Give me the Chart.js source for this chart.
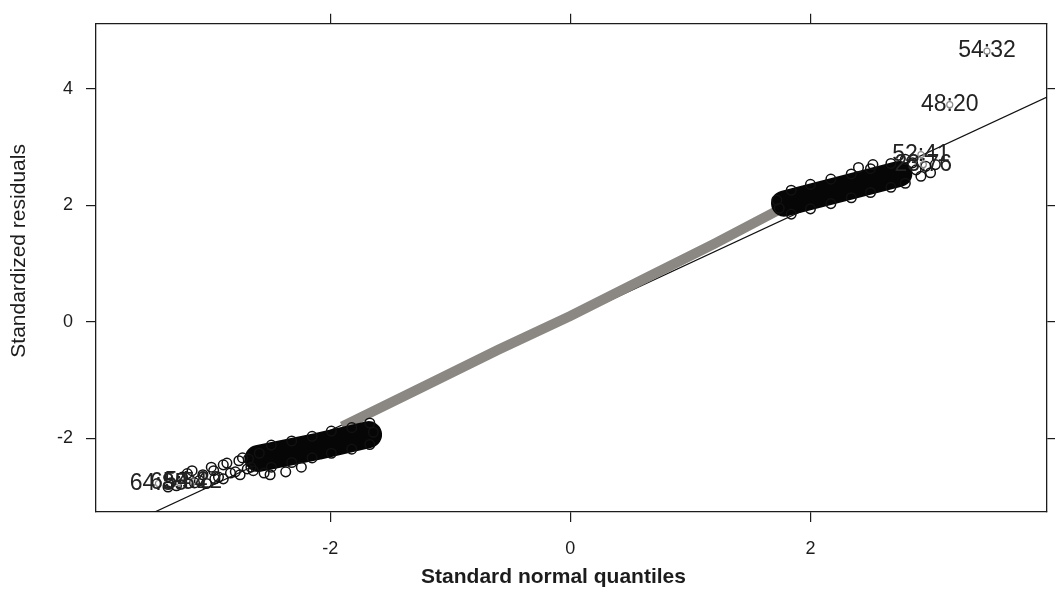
<!DOCTYPE html>
<html>
<head>
<meta charset="utf-8">
<script src="https://cdn.jsdelivr.net/npm/chart.js@4.4.1/dist/chart.umd.min.js"></script>
<style>
  html, body { margin: 0; padding: 0; background: #fff; }
  #wrap { width: 1055px; height: 593px; }
</style>
</head>
<body>
<div id="wrap"><canvas id="qq" width="1055" height="593"></canvas></div>
<script>
// --- DATA ---
const xTicks = [-2, 0, 2];
const yTicks = [-2, 0, 2, 4];

// fitted reference line, given by its two ends
const refLineX = [-3.95, 3.97];
const refLineY = [-3.74, 3.86];

// middle of the sample: so many points they read as a grey band
const bandX = [-1.90, -1.20, -0.60, 0.00, 0.60, 1.20, 1.78];
const bandY = [-1.80, -1.09, -0.48, 0.10, 0.72, 1.34, 1.97];

// dense black cores of both tails
const lowCoreX = [-1.68, -2.10, -2.60];
const lowCoreY = [-1.94, -2.14, -2.35];
const highCoreX = [1.78, 2.25, 2.74];
const highCoreY = [2.03, 2.28, 2.54];

// open circles around the lower tail
const lowTailX = [-2.49, -2.32, -2.15, -1.99, -1.82, -1.67,
                  -2.49, -2.32, -2.15, -1.99, -1.82, -1.67,
                  -3.19, -3.13, -3.06, -2.99, -2.93, -2.86, -2.79, -2.73, -2.66, -2.59,
                  -3.09, -2.96, -2.83, -2.69, -2.89, -2.76,
                  -3.28, -3.35, -2.50, -2.37, -2.24, -1.64,
                  -3.15, -3.03, -2.89, -2.75, -2.64, -2.97, -3.23, -2.55, -2.68];
const lowTailY = [-2.12, -2.05, -1.97, -1.88, -1.82, -1.74,
                  -2.50, -2.42, -2.34, -2.26, -2.19, -2.11,
                  -2.61, -2.77, -2.63, -2.50, -2.67, -2.43, -2.58, -2.34, -2.50, -2.26,
                  -2.73, -2.70, -2.60, -2.53, -2.46, -2.39,
                  -2.82, -2.84, -2.63, -2.58, -2.50, -1.90,
                  -2.56, -2.78, -2.70, -2.63, -2.56, -2.56, -2.67, -2.60, -2.36];

// open circles around the upper tail
const highTailX = [1.84, 2.00, 2.17, 2.34, 2.50, 2.67, 2.79,
                   1.84, 2.00, 2.17, 2.34, 2.50, 2.67, 2.79,
                   2.88, 2.96, 3.04, 2.92, 3.00, 2.85, 2.40, 2.52, 1.72, 1.74];
const highTailY = [2.26, 2.36, 2.45, 2.54, 2.63, 2.72, 2.79,
                   1.85, 1.94, 2.03, 2.13, 2.22, 2.31, 2.38,
                   2.61, 2.67, 2.70, 2.50, 2.56, 2.73, 2.65, 2.70, 2.09, 1.95];

// labelled extremes
const outLabels = ['54:32', '48:20', '52:41', '23:76', '64:85', '65:54', '54:22'];
const outX = [3.47, 3.16, 2.92, 2.94, -3.43, -3.26, -3.14];
const outY = [4.65, 3.73, 2.87, 2.70, -2.78, -2.76, -2.75];

const xMin = -3.95, xMax = 3.97;
const yMin = -3.27, yMax = 5.12;

// --- HELPERS ---
const pts = (xs, ys) => xs.map((x, i) => ({ x: x, y: ys[i] }));
const FONT = "'Liberation Sans', Arial, sans-serif";
const INK = '#1c1c1c';

const setTicks = list => scale => { scale.ticks = list.map(v => ({ value: v })); };

function axis(position, ticks, showLabels, size, tickLen) {
  const horiz = position === 'bottom' || position === 'top';
  return {
    type: 'linear',
    position: position,
    min: horiz ? xMin : yMin,
    max: horiz ? xMax : yMax,
    afterBuildTicks: setTicks(ticks),
    afterFit: s => { if (horiz) s.height = size; else s.width = size; },
    ticks: {
      display: showLabels,
      color: INK,
      font: { family: FONT, size: 18 },
      padding: horiz ? 16 : 13,
      maxRotation: 0,
      callback: v => String(v)
    },
    grid: { drawOnChartArea: false, drawTicks: true, tickLength: tickLen, color: INK, lineWidth: 1.2 },
    border: { display: true, color: INK, width: 1.3 }
  };
}

// axis titles, placed relative to the plot box
const axisTitles = {
  id: 'axisTitles',
  afterDraw(chart) {
    const { ctx, chartArea: a } = chart;
    ctx.save();
    ctx.fillStyle = INK;
    ctx.textAlign = 'center';
    ctx.textBaseline = 'middle';
    ctx.font = 'bold 21px ' + FONT;
    ctx.fillText('Standard normal quantiles', (a.left + a.right) / 2 - 18, chart.height - 16);
    ctx.translate(19, (a.top + a.bottom) / 2 - 17);
    ctx.rotate(-Math.PI / 2);
    ctx.font = '21px ' + FONT;
    ctx.fillText('Standardized residuals', 0, 0);
    ctx.restore();
  }
};

// labels of the extreme observations, centred on their points
const pointLabels = {
  id: 'pointLabels',
  afterDatasetsDraw(chart) {
    const { ctx, scales } = chart;
    ctx.save();
    ctx.fillStyle = '#222';
    ctx.textAlign = 'center';
    ctx.textBaseline = 'middle';
    ctx.font = '23px ' + FONT;
    outLabels.forEach((t, i) => {
      ctx.fillText(t, scales.x.getPixelForValue(outX[i]), scales.y.getPixelForValue(outY[i]));
    });
    ctx.restore();
  }
};

new Chart(document.getElementById('qq'), {
  type: 'scatter',
  data: {
    datasets: [
      {
        label: 'extremes', data: pts(outX, outY), order: 0,
        pointRadius: 3, pointBorderWidth: 1.2, pointBorderColor: '#8a8a8a', pointBackgroundColor: 'rgba(0,0,0,0)'
      },
      {
        label: 'lower tail', data: pts(lowTailX, lowTailY), order: 1,
        pointRadius: 4.8, pointBorderWidth: 1.5, pointBorderColor: '#111', pointBackgroundColor: 'rgba(0,0,0,0)'
      },
      {
        label: 'upper tail', data: pts(highTailX, highTailY), order: 1,
        pointRadius: 4.8, pointBorderWidth: 1.5, pointBorderColor: '#111', pointBackgroundColor: 'rgba(0,0,0,0)'
      },
      {
        label: 'lower core', data: pts(lowCoreX, lowCoreY), order: 2, showLine: true,
        borderColor: '#060606', borderWidth: 27, borderCapStyle: 'round', borderJoinStyle: 'round', pointRadius: 0
      },
      {
        label: 'upper core', data: pts(highCoreX, highCoreY), order: 2, showLine: true,
        borderColor: '#060606', borderWidth: 26, borderCapStyle: 'round', borderJoinStyle: 'round', pointRadius: 0
      },
      {
        label: 'middle', data: pts(bandX, bandY), order: 3, showLine: true,
        borderColor: '#8b8883', borderWidth: 10, borderCapStyle: 'butt', pointRadius: 0
      },
      {
        label: 'reference', data: pts(refLineX, refLineY), order: 4, showLine: true,
        borderColor: '#111', borderWidth: 1.2, pointRadius: 0
      }
    ]
  },
  options: {
    responsive: false,
    animation: false,
    devicePixelRatio: 1,
    layout: { padding: 0, autoPadding: false },
    plugins: { legend: { display: false }, tooltip: { enabled: false } },
    scales: {
      x: axis('bottom', xTicks, true, 81, 10),
      y: axis('left', yTicks, true, 96, 10),
      x2: axis('top', xTicks, false, 17, 10),
      y2: axis('right', yTicks, false, 8, 8)
    }
  },
  plugins: [axisTitles, pointLabels]
});
</script>
</body>
</html>
